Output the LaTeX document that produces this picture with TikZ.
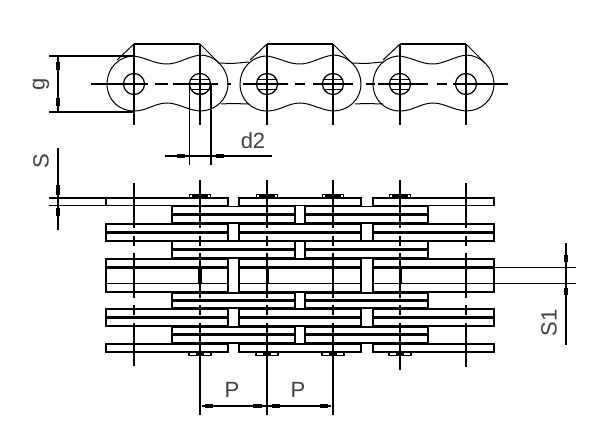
\documentclass[tikz,border=0pt]{standalone}
\usepackage{fontspec}
\setmainfont{Liberation Sans}
\tikzset{
  line/.style={line width=1.2pt,black},
  thinl/.style={line width=1pt,black},
  plate/.style={line width=1.35pt,black,fill=white},
  lbl/.style={text=black!75,font=\fontsize{22}{22}\selectfont,inner sep=0pt}
}
\begin{document}
\begin{tikzpicture}[x=1pt,y=-1pt]
\useasboundingbox (0,0) rectangle (600,433);
\fill[white] (0,0) rectangle (600,433);
% ---------- side view: link plates
\foreach \s in {134,267,400}{
  \begin{scope}[shift={(\s,0)}]
  \draw[thinl] (0,56) .. controls (13,58) and (21,64) .. (33,64)
     .. controls (44,64) and (53,57) .. (66,55)
     .. controls (81.4,55) and (94,68.6) .. (94,84)
     .. controls (94,99.4) and (81.4,111) .. (66,111)
     .. controls (53,110) and (44,103) .. (33,103)
     .. controls (21,103) and (13,111) .. (0,111)
     .. controls (-15.4,111) and (-27,99.4) .. (-27,84)
     .. controls (-27,68.6) and (-15.4,56) .. (0,56);
  \draw[line] (0,44) -- (66,44);
  \draw[thinl] (0,44) -- (-17,60);
  \draw[thinl] (66,44) -- (85,63);
  \end{scope}
}
\foreach \s in {218,352}{
  \draw[thinl] (\s,63) -- (\s+14,63.5) -- (\s+31,62);
  \draw[thinl] (\s+3,104) -- (\s+14,103.5) -- (\s+31,104);
}
% pin circles and centre marks
\foreach \x in {134,466}{
  \draw[line] (\x,84) circle[radius=10.5];
}
\foreach \x in {200,267,333,400}{
  \draw[line] (\x,84) circle[radius=10.5];
  \draw[line] (\x-9.5,79.5) -- (\x+9.5,79.5);
  \draw[line] (\x-9.5,89.5) -- (\x+9.5,89.5);
}
\foreach \x in {134,200,267,333,400,466}{
  \draw[line] (\x,44) -- (\x,125);
}
\draw[line] (194,93) .. controls (198,94.5) and (202,94.5) .. (206,93);
% centre line
\foreach \a/\b in {91/148,155/168,173/218,227/231,243/288,295/305,313/353,366/375,378/428,437/447,453/508}{
  \draw[line] (\a,84) -- (\b,84);
}
% ---------- dimensions, side view
\draw[line] (49,56) -- (134,56);
\draw[line] (49,112) -- (134,112);
\draw[line] (58,56) -- (58,112);
\fill (55.7,62) rectangle (60.3,70);
\fill (55.7,98) rectangle (60.3,106);
\node[lbl,rotate=90] (g) at (41,84) {g};
\draw[line] (189.5,84) -- (189.5,165);
\draw[line] (211,84) -- (211,165);
\draw[line] (165,156) -- (272,156);
\fill (177,153.7) rectangle (185,158.3);
\fill (216,153.7) rectangle (224,158.3);
\node[lbl] (d2) at (253,141) {d2};
% ---------- plan view: plates
\foreach \a/\b/\c in {106/228/198,239/361/198,373/494/198}{
  \draw[plate] (\a,\c) rectangle (\b,205.5);
}
\foreach \t/\u in {206.5/223,241/258,293/308,327/343}{
  \foreach \a/\b in {172/295,305/428}{
    \draw[plate] (\a,\t) rectangle (\b,\u);
  }
}
\foreach \a/\b in {172/295,305/428}{
  \draw[line width=3.2pt] (\a,214.5) -- (\b,214.5);
  \draw[line width=2.2pt] (\a,249.5) -- (\b,249.5);
  \draw[line width=3.2pt] (\a,300.5) -- (\b,300.5);
  \draw[line width=3.2pt] (\a,334.5) -- (\b,334.5);
}
\foreach \a/\b in {106/228,239/361,373/494}{
  \draw[plate] (\a,224) rectangle (\b,241);
  \draw[line width=3.2pt] (\a,232.5) -- (\b,232.5);
  \draw[plate] (\a,259) rectangle (\b,292);
  \draw[line width=2.6pt] (\a,267.5) -- (\b,267.5);
  \draw[line width=1.4pt] (\a,283.5) -- (\b,283.5);
  \draw[plate] (\a,309) rectangle (\b,326);
  \draw[line width=3.2pt] (\a,317.5) -- (\b,317.5);
  \draw[plate] (\a,344) rectangle (\b,352);
}
% pin heads
\foreach \x in {200,267,333,400}{
  \fill (\x-11,194) rectangle (\x+11,198);
  \fill[white] (\x-10,195.3) rectangle (\x-8,197);
  \fill[white] (\x+8,195.3) rectangle (\x+10,197);
  \draw[line width=1.2pt,fill=white] (\x-11,352) rectangle (\x+11,355.5);
  \fill (\x-4,352) rectangle (\x+4,355.5);
}
% thick pin bars
\foreach \x in {200,267.5,400.5}{
  \draw[line width=3.2pt] (\x,268) -- (\x,283);
}
% pin centre lines
\foreach \x/\t/\e in {134/183/366,200/180/415,267/180/415,333/180/415,400/180/370,466/183/367}{
  \draw[line] (\x,\t) -- (\x,228);
  \draw[line] (\x,236) -- (\x,246);
  \draw[line] (\x,253) -- (\x,298);
  \draw[line] (\x,305) -- (\x,315);
  \draw[line] (\x,323) -- (\x,\e);
}
% ---------- dimensions, plan view
\draw[line] (49,198) -- (106,198);
\draw[line] (49,205.5) -- (106,205.5);
\draw[line] (58,148) -- (58,230);
\fill (55.7,185) rectangle (60.3,195);
\fill (55.7,208) rectangle (60.3,216);
\node[lbl,rotate=90] (s) at (41,161) {S};
\draw[line] (202,406) -- (331,406);
\fill (205,403.7) rectangle (213,408.3);
\fill (253,403.7) rectangle (262,408.3);
\fill (272,403.7) rectangle (280,408.3);
\fill (320,403.7) rectangle (328,408.3);
\node[lbl] (p1) at (232,390) {P};
\node[lbl] (p2) at (298,390) {P};
\draw[line] (494,267.5) -- (576,267.5);
\draw[line] (494,283.5) -- (576,283.5);
\draw[line] (566,243) -- (566,345);
\fill (563.7,255) rectangle (568.3,262);
\fill (563.7,288) rectangle (568.3,295);
\node[lbl,rotate=90] (s1) at (549,323) {S1};
\end{tikzpicture}
\end{document}
